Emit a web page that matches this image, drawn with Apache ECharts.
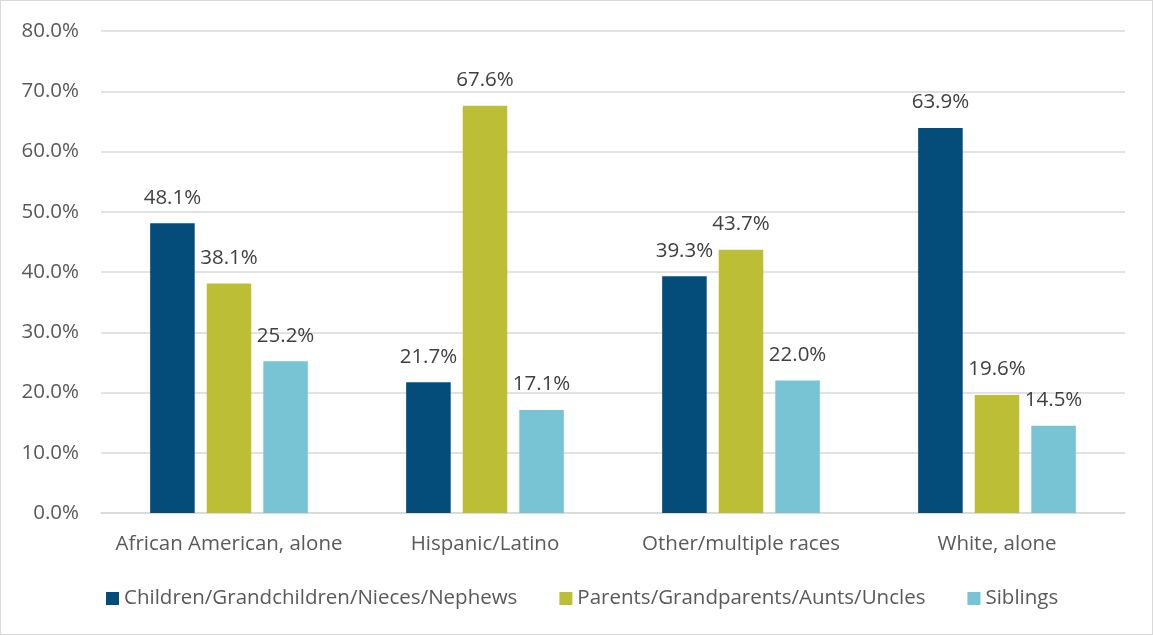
<!DOCTYPE html>
<html>
<head>
<meta charset="utf-8">
<script src="https://cdn.jsdelivr.net/npm/echarts@6/dist/echarts.min.js"></script>
<style>
  html, body { margin: 0; padding: 0; background: #fff; }
  #chart { width: 1151px; height: 633px; border: 1px solid #d9d9d9; }
</style>
</head>
<body>
<div id="chart"></div>
<script>
// Race/ethnicity groups along the x axis
const categories = ['African American, alone', 'Hispanic/Latino', 'Other/multiple races', 'White, alone'];
// Relationship of caregiver to child, share in percent
const children = [48.1, 21.7, 39.3, 63.9];
const parents = [38.1, 67.6, 43.7, 19.6];
const siblings = [25.2, 17.1, 22.0, 14.5];
const seriesNames = ['Children/Grandchildren/Nieces/Nephews', 'Parents/Grandparents/Aunts/Uncles', 'Siblings'];
const colors = ['#044c7a', '#bcbf35', '#78c4d4'];

const font = '"Open Sans", "Noto Sans", sans-serif';
const fs = 20.5;
const chart = echarts.init(document.getElementById('chart'));

function bar(name, data, color) {
  return {
    name: name,
    type: 'bar',
    data: data,
    barWidth: '17.4%',
    barGap: '27%',
    itemStyle: { color: color },
    label: {
      show: true,
      position: 'top',
      distance: 15,
      color: '#404040',
      fontFamily: font,
      fontSize: fs,
      formatter: p => p.value.toFixed(1) + '%'
    }
  };
}

chart.setOption({
  animation: false,
  color: colors,
  textStyle: { fontFamily: font },
  grid: { left: 100, right: 27, top: 30, bottom: 121 },
  legend: {
    left: 100,
    top: 582,
    itemWidth: 13,
    itemHeight: 13,
    itemGap: 42,
    icon: 'rect',
    textStyle: { color: '#595959', fontSize: fs, fontFamily: font },
    data: seriesNames
  },
  xAxis: {
    type: 'category',
    data: categories,
    axisLine: { lineStyle: { color: '#d9d9d9', width: 1.5 } },
    axisTick: { show: false },
    axisLabel: { color: '#595959', fontSize: fs, fontFamily: font, margin: 21, interval: 0 }
  },
  yAxis: {
    type: 'value',
    min: 0,
    max: 80,
    interval: 10,
    axisLine: { show: false },
    axisTick: { show: false },
    splitLine: { lineStyle: { color: '#d9d9d9', width: 1.5 } },
    axisLabel: {
      color: '#595959',
      fontSize: fs,
      fontFamily: font,
      margin: 22,
      formatter: v => v.toFixed(1) + '%'
    }
  },
  series: [
    bar(seriesNames[0], children, colors[0]),
    bar(seriesNames[1], parents, colors[1]),
    bar(seriesNames[2], siblings, colors[2])
  ]
});
</script>
</body>
</html>
